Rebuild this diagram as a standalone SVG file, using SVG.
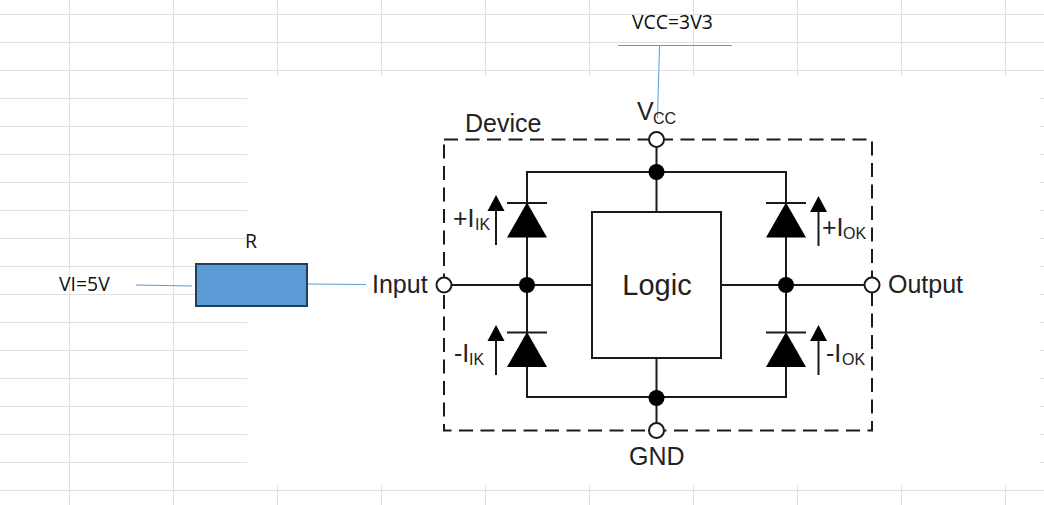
<svg xmlns="http://www.w3.org/2000/svg" width="1044" height="505" viewBox="0 0 1044 505">
<style>
.g{stroke:#e0e0e0;stroke-width:1;fill:none}
.w{stroke:#1a1a1a;stroke-width:2;fill:none}
.b{fill:#000;stroke:none}
.o{fill:#fff;stroke:#1a1a1a;stroke-width:2}
.t{font-family:"Liberation Sans",Arial,sans-serif;font-size:25px;fill:#222}
.s{font-family:"Liberation Sans",Arial,sans-serif;font-size:16px;fill:#222}
.x{font-family:"Open Sans","Noto Sans",sans-serif;font-size:19.400px;fill:#111}
.l{stroke:#5b9bd5;stroke-width:1;fill:none}
</style>
<defs>
<g id="dio"><path class="b" d="M-20 17.500L20 17.500L0 -17.500Z"/><path class="w" d="M-20 -17H20"/></g>
<g id="arr"><path class="b" d="M-8.500 0L8.500 0L0 -16Z"/><path d="M0 -1V34" stroke="#1a1a1a" stroke-width="2"/></g>
</defs>
<rect width="1044" height="505" fill="#fff"/>
<g id="grid">
<path class="g" d="M0 14.500H1044M0 42.500H1044M0 70.500H1044M0 490.500H1044"/>
<path class="g" d="M0 98.500H247M0 126.500H247M0 154.500H247M0 182.500H247M0 210.500H247M0 238.500H247M0 266.500H247M0 294.500H247M0 322.500H247M0 350.500H247M0 378.500H247M0 406.500H247M0 434.500H247M0 462.500H247"/>
<path class="g" d="M1040 98.500H1044M1040 126.500H1044M1040 154.500H1044M1040 182.500H1044M1040 210.500H1044M1040 238.500H1044M1040 266.500H1044M1040 294.500H1044M1040 322.500H1044M1040 350.500H1044M1040 378.500H1044M1040 406.500H1044M1040 434.500H1044M1040 462.500H1044"/>
<path class="g" d="M69.500 0V505M173.500 0V505"/>
<path class="g" d="M277.500 0V76M381.500 0V76M485.500 0V76M589.500 0V76M693.500 0V76M797.500 0V76M901.500 0V76M1005.500 0V76"/>
<path class="g" d="M277.500 486V505M381.500 486V505M485.500 486V505M589.500 486V505M693.500 486V505M797.500 486V505M901.500 486V505M1005.500 486V505"/>
</g>
<g id="connectors">
<path d="M444 139.500H872V430.500H444Z" fill="none" stroke="#1a1a1a" stroke-width="2" stroke-dasharray="14 7.500"/>
<path class="w" d="M527 285V172H786V285M527 285V397H786V285M656.500 140V212M656.500 358V431M444 285H592M721 285H872"/>
<path class="l" d="M618 45.500H732M659.500 45L657.500 118M136 285L192 286M308 284L366 284.500"/>
</g>
<g id="device-label"><text class="t" x="465" y="132">Device</text></g>
<g id="vcc"><circle class="o" cx="656.500" cy="139.500" r="7.500"/><text class="t" x="637" y="120">V</text><text class="s" x="653" y="124">CC</text></g>
<g id="junction-top"><circle class="b" cx="656.500" cy="172" r="8"/></g>
<g id="junction-bottom"><circle class="b" cx="656.500" cy="398" r="8"/></g>
<g id="junction-left"><circle class="b" cx="527" cy="285" r="8"/></g>
<g id="junction-right"><circle class="b" cx="786" cy="285" r="8"/></g>
<g id="logic"><rect x="592" y="212" width="129" height="146" fill="#fff" stroke="#1a1a1a" stroke-width="2"/><text class="t" x="657" y="295" text-anchor="middle" style="font-size:29px">Logic</text></g>
<g id="input"><circle class="o" cx="444" cy="285" r="7.500"/><text class="t" x="372" y="293">Input</text></g>
<g id="output"><circle class="o" cx="872" cy="285" r="7.500"/><text class="t" x="888" y="293">Output</text></g>
<g id="gnd"><circle class="o" cx="656.500" cy="430.500" r="7.500"/><text class="t" x="629" y="465">GND</text></g>
<g id="d1"><use href="#dio" x="527" y="220"/><use href="#arr" x="496" y="211"/><text class="t" x="453" y="227">+I</text><text class="s" x="475" y="230">IK</text></g>
<g id="d2"><use href="#dio" x="527" y="349.500"/><use href="#arr" x="496" y="341"/><text class="t" x="454" y="362">-I</text><text class="s" x="469" y="365">IK</text></g>
<g id="d3"><use href="#dio" x="786" y="220"/><use href="#arr" x="818.500" y="212"/><text class="t" x="822" y="236">+I</text><text class="s" x="843" y="239">OK</text></g>
<g id="d4"><use href="#dio" x="786" y="349.500"/><use href="#arr" x="818.500" y="341"/><text class="t" x="826" y="362">-I</text><text class="s" x="842" y="365">OK</text></g>
<g id="resistor"><rect x="196" y="264" width="111" height="42" fill="#5b9bd5" stroke="#203f5f" stroke-width="2"/><text class="x" x="251" y="248" text-anchor="middle">R</text></g>
<g id="vi"><text class="x" x="59" y="291">VI=5V</text></g>
<g id="vcc-source"><text class="x" x="632" y="29">VCC=3V3</text></g>
</svg>
